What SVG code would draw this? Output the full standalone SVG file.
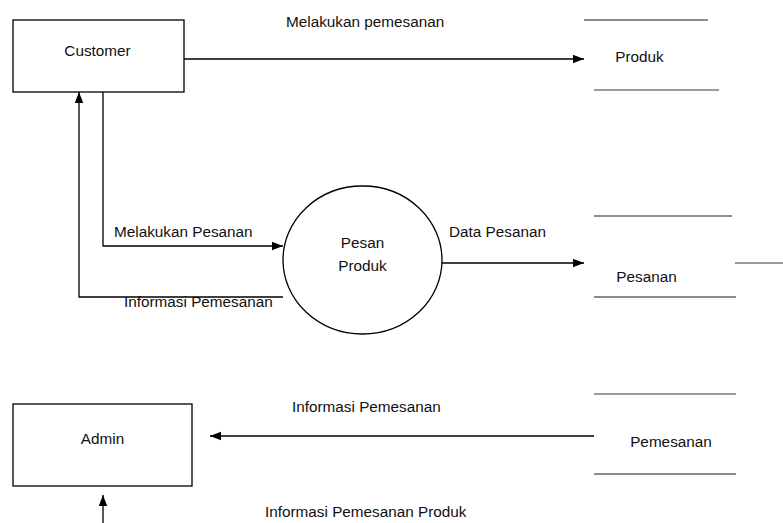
<svg xmlns="http://www.w3.org/2000/svg" width="783" height="523" viewBox="0 0 783 523">
  <style>
    .box { fill: #ffffff; stroke: #000000; stroke-width: 1.3; }
    .proc { fill: #ffffff; stroke: #000000; stroke-width: 1.3; }
    .flow { fill: none; stroke: #000000; stroke-width: 1.3; }
    .store-dark { stroke: #1a1a1a; stroke-width: 1.2; }
    .store-gray { stroke: #7a7a7a; stroke-width: 1.4; }
    text { font-family: "Liberation Sans", Arial, sans-serif; font-size: 15.3px; fill: #111111; }
    .mid { text-anchor: middle; }
  </style>
  <defs>
    <marker id="arrow" markerUnits="userSpaceOnUse" markerWidth="12" markerHeight="10" refX="11" refY="5" orient="auto">
      <path d="M0,0.8 L11,5 L0,9.2 Z" fill="#000000"/>
    </marker>
  </defs>

  <!-- external entities -->
  <g id="customer">
    <rect class="box" x="13" y="20" width="171" height="72"/>
    <text class="mid" x="97.5" y="56">Customer</text>
  </g>
  <g id="admin">
    <rect class="box" x="13" y="404" width="179" height="82"/>
    <text class="mid" x="102.5" y="444">Admin</text>
  </g>

  <!-- process -->
  <g id="pesan-produk">
    <ellipse class="proc" cx="362.5" cy="260" rx="79.5" ry="74"/>
    <text class="mid" x="362.5" y="248">Pesan</text>
    <text class="mid" x="362.5" y="271">Produk</text>
  </g>

  <!-- data stores -->
  <g id="store-produk">
    <line class="store-dark" x1="584" y1="20" x2="708" y2="20"/>
    <line class="store-gray" x1="594" y1="90" x2="719" y2="90"/>
    <text class="mid" x="639.5" y="62">Produk</text>
  </g>
  <g id="store-pesanan">
    <line class="store-dark" x1="594" y1="216" x2="732" y2="216"/>
    <line class="store-dark" x1="594" y1="297" x2="736" y2="297"/>
    <line class="store-gray" x1="735" y1="263" x2="783" y2="263"/>
    <text class="mid" x="646.5" y="282">Pesanan</text>
  </g>
  <g id="store-pemesanan">
    <line class="store-gray" x1="594" y1="394" x2="736" y2="394"/>
    <line class="store-dark" x1="594" y1="474" x2="736" y2="474"/>
    <text class="mid" x="671" y="447">Pemesanan</text>
  </g>

  <!-- data flows -->
  <g id="connectors">
    <line class="flow" x1="184" y1="59" x2="584" y2="59" marker-end="url(#arrow)"/>
    <polyline class="flow" points="103,92 103,246 283,246" marker-end="url(#arrow)"/>
    <polyline class="flow" points="283,297 79,297 79,92" marker-end="url(#arrow)"/>
    <line class="flow" x1="442" y1="263" x2="584" y2="263" marker-end="url(#arrow)"/>
    <line class="flow" x1="594" y1="436" x2="210" y2="436" marker-end="url(#arrow)"/>
    <line class="flow" x1="103" y1="523" x2="103" y2="495" marker-end="url(#arrow)"/>
  </g>

  <!-- flow labels -->
  <g id="labels">
    <text x="286" y="26.5">Melakukan pemesanan</text>
    <text x="114" y="237">Melakukan Pesanan</text>
    <text x="124" y="307">Informasi Pemesanan</text>
    <text x="449" y="237">Data Pesanan</text>
    <text x="292" y="412">Informasi Pemesanan</text>
    <text x="265" y="517">Informasi Pemesanan Produk</text>
  </g>
</svg>
